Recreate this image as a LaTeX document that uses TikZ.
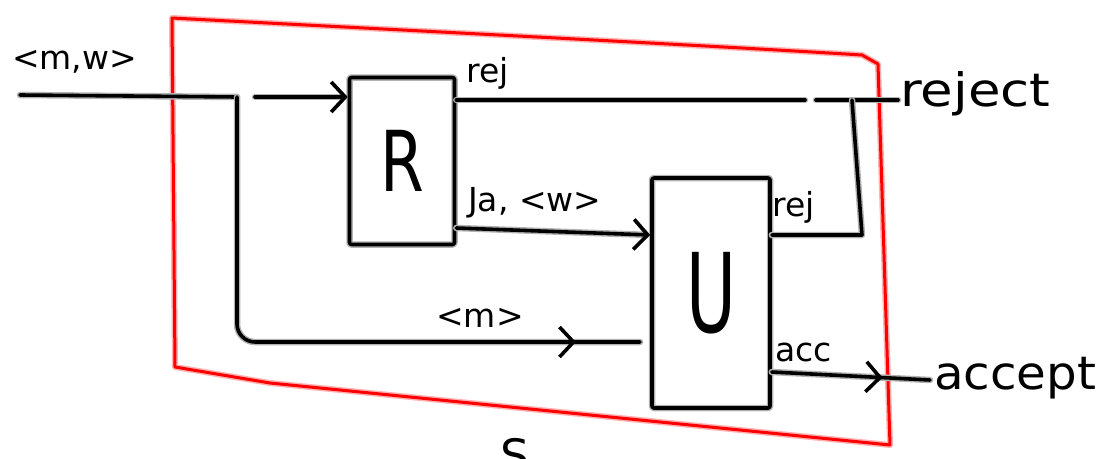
\documentclass[tikz,border=0pt]{standalone}
\usepackage{fontspec}
\setmainfont{DejaVu Sans}
\usetikzlibrary{arrows.meta,decorations.markings}
\begin{document}
\begin{tikzpicture}[x=1pt,y=-1pt,
  ink/.style={draw=black, line width=3.6pt, line cap=round, line join=round,
    preaction={draw=black!30, line width=6.5pt, line cap=round, line join=round}},
  boundary/.style={draw=red, line width=3pt, line join=round,
    preaction={draw=red!30, line width=6pt, line join=round}},
  box/.style={ink, rounded corners=2pt, inner sep=0pt},
  barb/.style={-{Straight Barb[length=14pt,width=30pt,line width=3.6pt]}},
  midbarb/.style={postaction={decorate}, decoration={markings,
    mark=at position #1 with {\arrow{Straight Barb[length=14pt,width=30pt,line width=3.6pt]}}}},
  lab/.style={font=\fontsize{33}{33}\selectfont, inner sep=0pt},
  big/.style={font=\fontsize{46}{46}\selectfont, inner sep=0pt}
]
\useasboundingbox (0,0) rectangle (1106,458);

% machine S
\draw[boundary] (172,18) .. controls (400,30) and (700,45) .. (862,55)
  -- (878,64) -- (890,445) -- (270,383) -- (175,367) -- cycle;
\node[big, anchor=north] (slabel) at (515,438) {S};

% sub-machines
\node[box, minimum width=105pt, minimum height=167pt,
      font=\fontsize{84}{84}\selectfont] (rbox) at (402,161) {\scalebox{0.75}[1]{R}};
\node[box, minimum width=118pt, minimum height=230pt,
      font=\fontsize{110}{110}\selectfont] (ubox) at (711,293) {\scalebox{0.62}[1]{U}};

% input
\coordinate (in) at (20,95);
\coordinate (split) at (237,97);
\coordinate (gap) at (255,97);
\node[lab, anchor=south west] (inlabel) at (12,74) {<m,w>};
\draw[ink] (in) -- (split);
\draw[ink, barb] (gap) -- (rbox.west |- gap);

% <m> branch into U
\coordinate (uin) at (640,342);
\draw[ink, rounded corners=18pt, midbarb=0.9] (split) |- (uin);
\node[lab] (mlabel) at (480,318) {<m>};

% R rejects
\coordinate (rrej) at (rbox.east |- 0,100);
\coordinate (dash) at (805,100);
\coordinate (dash2) at (816,100);
\coordinate (tee) at (852,100);
\coordinate (rejend) at (898,100);
\draw[ink] (rrej) -- (dash);
\draw[ink] (dash2) -- (rejend);
\node[lab, anchor=south west] (rejlabel) at (466,90) {rej};
\node[big, anchor=west] (reject) at (900,94) {\scalebox{1.15}[1]{reject}};

% R accepts, passes <w> to U
\coordinate (racc) at (rbox.east |- 0,228);
\draw[ink, barb] (racc) -- (ubox.west |- 0,235);
\node[lab, anchor=south west] (jalabel) at (468,218) {Ja, <w>};

% U rejects
\coordinate (urej) at (ubox.east |- 0,235);
\draw[ink] (urej) -- (862,235) -- (tee);
\node[lab, anchor=south west] (urejlabel) at (772,224) {rej};

% U accepts
\coordinate (uacc) at (ubox.east |- 0,372);
\coordinate (accend) at (930,380);
\draw[ink, midbarb=0.7] (uacc) -- (accend);
\node[lab, anchor=south west] (acclabel) at (775,362) {acc};
\node[big, anchor=west] (accept) at (934,378) {\scalebox{1.05}[1]{accept}};
\end{tikzpicture}
\end{document}
